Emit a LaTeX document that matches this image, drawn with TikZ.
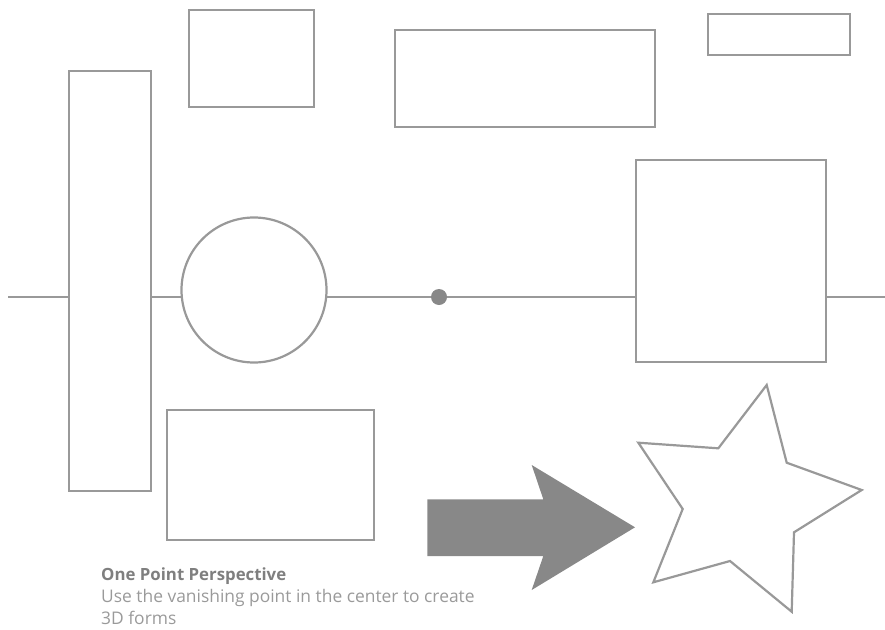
\documentclass[tikz,border=0pt]{standalone}
\usepackage{fontspec}
\setmainfont{Open Sans}
\definecolor{stk}{HTML}{999999}
\definecolor{arr}{HTML}{888888}
\definecolor{tbold}{HTML}{7F7F7F}
\definecolor{treg}{HTML}{9A9A9A}
\begin{document}
\begin{tikzpicture}[x=1pt,y=-1pt,
  shp/.style={draw=stk,line width=2.2pt,fill=white,inner sep=0pt,outer sep=0pt},
  box/.style={shp,rectangle,anchor=north west},
  hline/.style={draw=stk,line width=2.2pt},
  txt/.style={anchor=base west,inner sep=0pt,font=\fontsize{17.4}{20}\selectfont}]
\useasboundingbox (0,0) rectangle (885,629);
\coordinate (lend) at (8,297);
\coordinate (rend) at (885,297);
\draw[hline] (lend) -- (rend);
\node[box,minimum width=82pt,minimum height=420pt] (tall) at (69,71) {};
\node[box,minimum width=125pt,minimum height=97pt] (r1) at (189,10) {};
\node[box,minimum width=260pt,minimum height=97pt] (r2) at (395,30) {};
\node[box,minimum width=142pt,minimum height=41pt] (r3) at (708,14) {};
\node[box,minimum width=190pt,minimum height=202pt] (sq) at (636,160) {};
\node[box,minimum width=207pt,minimum height=130pt] (r4) at (167,410) {};
\node[shp,circle,minimum size=145pt] (circ) at (254,290) {};
\node[circle,fill=arr,inner sep=0pt,minimum size=16pt] (vp) at (439,297) {};
\fill[arr] (427.3,499.3) -- (543.3,499.3) -- (531.7,465) -- (635,527.3) -- (531.7,590) -- (543.3,556) -- (427.3,556) -- cycle;
\draw[draw=stk,line width=2.2pt,line join=miter,fill=white]
  (766.7,385) -- (786.7,462.7) -- (861.7,490) -- (794,532.3) -- (791.7,611.7)
  -- (730,561) -- (653.3,582.3) -- (682.7,509) -- (638.3,442.7) -- (718.3,448.3) -- cycle;
\node[txt,text=tbold,font=\fontsize{16.8}{20}\bfseries] (t1) at (101,580.7) {One Point Perspective};
\node[txt,text=treg] (t2) at (101,602.7) {Use the vanishing point in the center to create};
\node[txt,text=treg] (t3) at (101,624.5) {3D forms};
\end{tikzpicture}
\end{document}
